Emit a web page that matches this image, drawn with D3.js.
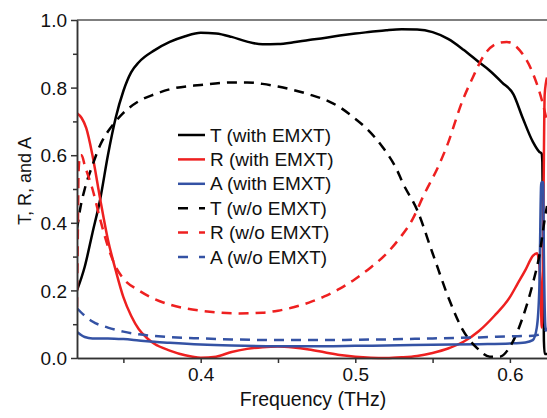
<!DOCTYPE html>
<html><head><meta charset="utf-8">
<script src="https://cdn.jsdelivr.net/npm/d3@7"></script>
<style>body{margin:0;background:#fff}svg{display:block}text{font-family:"Liberation Sans",Arial,sans-serif;fill:#111}</style>
</head><body><svg id="c" width="547" height="418"></svg>
<script>
// ---- data (frequency in THz, value) ----
const tWith = [[0.320,0.20],[0.325,0.27],[0.330,0.37],[0.335,0.47],[0.340,0.60],[0.345,0.71],[0.350,0.79],[0.355,0.845],[0.360,0.875],[0.370,0.91],[0.380,0.935],[0.390,0.952],[0.400,0.962],[0.410,0.960],[0.420,0.950],[0.430,0.936],[0.440,0.928],[0.450,0.929],[0.460,0.934],[0.470,0.941],[0.480,0.947],[0.490,0.954],[0.500,0.960],[0.510,0.965],[0.520,0.970],[0.530,0.973],[0.540,0.972],[0.550,0.964],[0.560,0.944],[0.570,0.912],[0.580,0.875],[0.587,0.85],[0.595,0.815],[0.6023,0.78],[0.6083,0.71],[0.6148,0.64],[0.6190,0.61],[0.6205,0.605],[0.6210,0.58],[0.6215,0.30],[0.6220,0.05],[0.6225,0.012],[0.6240,0.012]];
const rWith = [[0.320,0.724],[0.323,0.71],[0.326,0.68],[0.330,0.60],[0.335,0.47],[0.340,0.35],[0.345,0.26],[0.350,0.18],[0.355,0.125],[0.360,0.085],[0.365,0.06],[0.370,0.042],[0.380,0.022],[0.390,0.008],[0.400,0.001],[0.410,0.004],[0.420,0.018],[0.430,0.027],[0.440,0.032],[0.450,0.034],[0.460,0.031],[0.470,0.025],[0.480,0.017],[0.490,0.009],[0.500,0.004],[0.510,0.001],[0.520,0.0],[0.530,0.002],[0.540,0.006],[0.550,0.015],[0.560,0.028],[0.570,0.048],[0.580,0.08],[0.590,0.125],[0.600,0.18],[0.605,0.22],[0.610,0.26],[0.615,0.303],[0.6175,0.31],[0.619,0.28],[0.620,0.18],[0.6206,0.09],[0.6212,0.2],[0.6218,0.5],[0.6225,0.78],[0.6240,0.83]];
const aWith = [[0.320,0.077],[0.325,0.062],[0.330,0.058],[0.340,0.058],[0.350,0.056],[0.360,0.052],[0.370,0.048],[0.380,0.045],[0.400,0.040],[0.420,0.037],[0.450,0.035],[0.480,0.035],[0.500,0.036],[0.520,0.037],[0.550,0.039],[0.580,0.041],[0.600,0.043],[0.610,0.046],[0.6148,0.053],[0.6174,0.09],[0.619,0.2],[0.6203,0.52],[0.6215,0.52],[0.622,0.3],[0.623,0.09],[0.624,0.08]];
const tWo = [[0.320,0.38],[0.322,0.44],[0.325,0.50],[0.330,0.57],[0.335,0.63],[0.340,0.67],[0.345,0.70],[0.350,0.725],[0.360,0.76],[0.370,0.78],[0.380,0.795],[0.400,0.808],[0.420,0.815],[0.430,0.815],[0.440,0.811],[0.450,0.803],[0.460,0.793],[0.470,0.78],[0.4835,0.758],[0.490,0.742],[0.498,0.715],[0.5075,0.678],[0.518,0.622],[0.527,0.556],[0.5307,0.518],[0.540,0.438],[0.550,0.31],[0.561,0.17],[0.5695,0.083],[0.5786,0.03],[0.587,0.004],[0.5934,0.004],[0.600,0.033],[0.6083,0.12],[0.6148,0.22],[0.6193,0.31],[0.6225,0.41],[0.624,0.45]];
const rWo = [[0.3200,0.15],[0.3205,0.35],[0.3210,0.55],[0.3220,0.60],[0.3230,0.60],[0.325,0.57],[0.330,0.50],[0.335,0.41],[0.340,0.33],[0.345,0.27],[0.350,0.235],[0.360,0.20],[0.370,0.175],[0.380,0.158],[0.390,0.147],[0.400,0.140],[0.410,0.135],[0.425,0.132],[0.440,0.134],[0.450,0.14],[0.460,0.15],[0.470,0.164],[0.480,0.182],[0.490,0.205],[0.500,0.234],[0.510,0.268],[0.520,0.308],[0.5288,0.355],[0.537,0.41],[0.5437,0.476],[0.5547,0.577],[0.559,0.624],[0.5695,0.763],[0.576,0.83],[0.5825,0.89],[0.5915,0.93],[0.598,0.935],[0.6064,0.91],[0.6148,0.843],[0.6212,0.754],[0.624,0.70]];
const aWo = [[0.320,0.147],[0.325,0.125],[0.330,0.108],[0.340,0.09],[0.350,0.078],[0.360,0.07],[0.380,0.062],[0.400,0.058],[0.420,0.055],[0.450,0.053],[0.480,0.053],[0.500,0.054],[0.520,0.055],[0.550,0.058],[0.580,0.061],[0.600,0.064],[0.615,0.066],[0.619,0.07],[0.621,0.075],[0.624,0.085]];
const seriesNames = ["T (with EMXT)","R (with EMXT)","A (with EMXT)","T (w/o EMXT)","R (w/o EMXT)","A (w/o EMXT)"];
const seriesColors = ["#000000","#ee2020","#3452a4","#000000","#ee2020","#3452a4"];
const seriesDashed = [false,false,false,true,true,true];
const seriesData = [tWith,rWith,aWith,tWo,rWo,aWo];
const xTicks = [0.4,0.5,0.6];
const xMinor = [0.35,0.45,0.55];
const yTicks = [0,0.2,0.4,0.6,0.8,1.0];
const yMinor = [0.1,0.3,0.5,0.7,0.9];

const svg = d3.select("#c");
const L=77, R=547, T=20, B=358;
const FS = 19;
const x = d3.scaleLinear().domain([0.32,0.624]).range([L,R]);
const y = d3.scaleLinear().domain([0,1]).range([B,T]);

svg.append("clipPath").attr("id","clip").append("rect").attr("x",L).attr("y",T-2).attr("width",R-L+2).attr("height",B-T+4);

const line = d3.line().x(d=>x(d[0])).y(d=>y(d[1])).curve(d3.curveMonotoneX);
const g = svg.append("g").attr("clip-path","url(#clip)");
seriesData.forEach((d,i)=>{
  g.append("path").attr("d",line(d)).attr("fill","none")
   .attr("stroke",seriesColors[i]).attr("stroke-width",2.5)
   .attr("stroke-dasharray",seriesDashed[i]?"10,7":null);
});

// frame top
svg.append("line").attr("x1",L).attr("x2",R).attr("y1",T).attr("y2",T).attr("stroke","#555").attr("stroke-width",1.5);

// axes
const xAxis = d3.axisBottom(x).tickValues(xTicks).tickFormat(d3.format(".1f")).tickSize(5).tickSizeOuter(0);
const xa = svg.append("g").attr("transform",`translate(0,${B})`).call(xAxis);
const xm = svg.append("g").attr("transform",`translate(0,${B})`).call(d3.axisBottom(x).tickValues(xMinor).tickFormat("").tickSize(5).tickSizeOuter(0));
const yAxis = d3.axisLeft(y).tickValues(yTicks).tickFormat(d3.format(".1f")).tickSize(6).tickSizeOuter(0);
const ya = svg.append("g").attr("transform",`translate(${L},0)`).call(yAxis);
const ym = svg.append("g").attr("transform",`translate(${L},0)`).call(d3.axisLeft(y).tickValues(yMinor).tickFormat("").tickSize(4).tickSizeOuter(0));
[xa,xm,ya,ym].forEach(a=>{
  a.select(".domain").attr("stroke","#333").attr("stroke-width",1.5);
  a.selectAll(".tick line").attr("stroke","#333").attr("stroke-width",1.5);
  a.selectAll("text").attr("font-size",FS).attr("font-family","Liberation Sans, Arial, sans-serif").attr("fill","#111");
});
xa.selectAll("text").attr("dy","0.75em").attr("y",9);
ya.selectAll("text").attr("x",-10).attr("dy","0.35em");

svg.append("text").attr("x",313).attr("y",406).attr("text-anchor","middle").attr("font-size",FS+0.5).text("Frequency (THz)");
svg.append("text").attr("transform","translate(31,181) rotate(-90)").attr("text-anchor","middle").attr("font-size",18).text("T, R, and A");

// legend
const legY0 = 135, legDY = 24.4;
seriesNames.forEach((n,i)=>{
  const yy = legY0 + i*legDY;
  svg.append("line").attr("x1",178).attr("x2",205).attr("y1",yy).attr("y2",yy)
    .attr("stroke",seriesColors[i]).attr("stroke-width",2.5)
    .attr("stroke-dasharray",seriesDashed[i]?"10,11":null);
  svg.append("text").attr("x",210).attr("y",yy).attr("dy","0.35em").attr("font-size",FS).text(n);
});
</script></body></html>
